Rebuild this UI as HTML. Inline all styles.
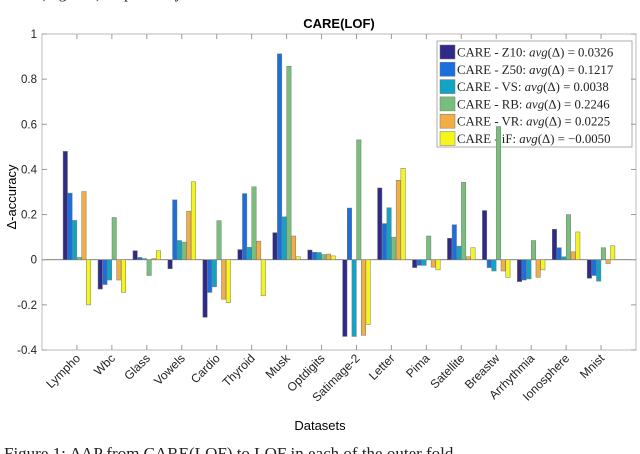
<!DOCTYPE html>
<html><head><meta charset="utf-8">
<style>
html,body{margin:0;padding:0;background:#fff;width:640px;height:454px;overflow:hidden}
svg{display:block}
text{font-family:"Liberation Sans",sans-serif}
</style></head>
<body>
<svg id="chart" width="640" height="454" viewBox="0 0 640 454">
<text x="40" y="-2" font-family="Liberation Serif" font-size="16" fill="#222" style="font-family:'Liberation Serif',serif">(Fig. 5-7) respectively.</text>
<text x="339" y="28" text-anchor="middle" font-size="13" font-weight="bold">CARE(LOF)</text>
<g id="plot"></g>
<text transform="translate(16,197) rotate(-90)" text-anchor="middle" font-size="13">Δ-accuracy</text>
<text x="320" y="430" text-anchor="middle" font-size="13">Datasets</text>
<text x="4" y="459" font-size="17" fill="#222" style="font-family:'Liberation Serif',serif">Figure 1: ΔAP from CARE(LOF) to LOF in each of the outer fold</text>
</svg>
<script>
const categories=["Lympho","Wbc","Glass","Vowels","Cardio","Thyroid","Musk","Optdigits","Satimage-2","Letter","Pima","Satellite","Breastw","Arrhythmia","Ionosphere","Mnist"];
const seriesNames=["CARE - Z10","CARE - Z50","CARE - VS","CARE - RB","CARE - VR","CARE - iF"];
const seriesAvg=["0.0326","0.1217","0.0038","0.2246","0.0225","\u22120.0050"];
const z10=[0.48,-0.13,0.04,-0.04,-0.255,0.045,0.12,0.043,-0.34,0.318,-0.035,0.095,0.218,-0.097,0.135,-0.082];
const z50=[0.295,-0.11,0.01,0.265,-0.145,0.293,0.912,0.033,0.229,0.16,-0.025,0.155,-0.035,-0.09,0.053,-0.07];
const vs=[0.174,-0.09,0.005,0.085,-0.12,0.055,0.19,0.032,-0.34,0.23,-0.025,0.06,-0.05,-0.085,0.013,-0.095];
const rb=[0.01,0.187,-0.07,0.078,0.173,0.323,0.857,0.023,0.531,0.1,0.105,0.343,0.59,0.085,0.2,0.053];
const vr=[0.302,-0.09,0.005,0.215,-0.175,0.082,0.105,0.025,-0.335,0.352,-0.033,0.013,-0.05,-0.078,0.035,-0.017];
const iF=[-0.2,-0.145,0.04,0.345,-0.19,-0.16,0.013,0.017,-0.287,0.405,-0.045,0.053,-0.078,-0.045,0.123,0.062];
const yTicks=[1,0.8,0.6,0.4,0.2,0,-0.2,-0.4];
const yTickLabels=["1","0.8","0.6","0.4","0.2","0","-0.2","-0.4"];

const series=[z10,z50,vs,rb,vr,iF];
const colors=["#2e2a87","#1a6fdc","#12a4c4","#79bf7c","#f2ad45","#f5f51e"];
const L=42,R=636,T=34,B=350;
const yMin=-0.4,yMax=1,xMin=0,xMax=17;
const NS="http://www.w3.org/2000/svg";
const y=v=>B-(v-yMin)/(yMax-yMin)*(B-T);
const x=i=>L+(i+1-xMin)/(xMax-xMin)*(R-L);
const g=document.getElementById('plot');
function mk(tag,attrs){const e=document.createElementNS(NS,tag);for(const k in attrs)e.setAttribute(k,attrs[k]);g.appendChild(e);return e;}
const box=mk('rect',{x:L,y:T,width:R-L,height:B-T,fill:'#fff',stroke:'#bbb','stroke-width':1});


const zl=mk('line',{x1:L,x2:R,y1:y(0),y2:y(0),stroke:'#555','stroke-width':0.8});


// legend (drawn before bars, as in reference)
const lg=mk('rect',{x:437,y:41,width:195,height:106,fill:'#fff',stroke:'#999','stroke-width':0.8});


seriesNames.forEach((n,j)=>{
  const yy=45+j*17.3;
  const sw=mk('rect',{x:440,y:yy,width:15,height:14,fill:colors[j],stroke:'#777','stroke-width':0.5});
  
  
  const t=mk('text',{x:457,y:yy+11.5,'font-size':12.8,fill:'#222',style:"font-family:'Liberation Serif',serif"});
  t.innerHTML=n+': <tspan font-style="italic">avg</tspan>(Δ) = '+seriesAvg[j];
  
  
});
const step=(R-L)/(xMax-xMin);
const bw=step*0.8/6*0.95;
categories.forEach((c,i)=>{
  const cx=x(i);
  series.forEach((s,j)=>{
    const v=s[i];
    const bx=cx-step*0.4+j*step*0.8/6+(step*0.8/6-bw)/2;
    const r=mk('rect',{x:bx,y:Math.min(y(v),y(0)),width:bw,height:Math.abs(y(v)-y(0)),fill:colors[j],stroke:'#777','stroke-width':0.5});
    
    
  });
  [T,B].forEach(yy=>{const t=mk('line',{x1:cx,x2:cx,y1:yy,y2:yy===T?yy+5:yy-5,stroke:'#999'});
    
    });
  const lb=mk('text',{transform:`translate(${cx+4},${B+9}) rotate(-45)`,'text-anchor':'end','font-size':12,fill:'#222'});
  lb.textContent=c;
  
  
});
yTicks.forEach((v,k)=>{
  const t=mk('line',{x1:L,x2:L+5,y1:y(v),y2:y(v),stroke:'#999'});
  
  
  const t2=mk('line',{x1:R,x2:R-5,y1:y(v),y2:y(v),stroke:'#999'});
  
  
  const lb=mk('text',{x:L-5,y:y(v)+4,'text-anchor':'end','font-size':11.5,fill:'#222'});
  lb.textContent=yTickLabels[k];
  
  
});
</script>
</body></html>
